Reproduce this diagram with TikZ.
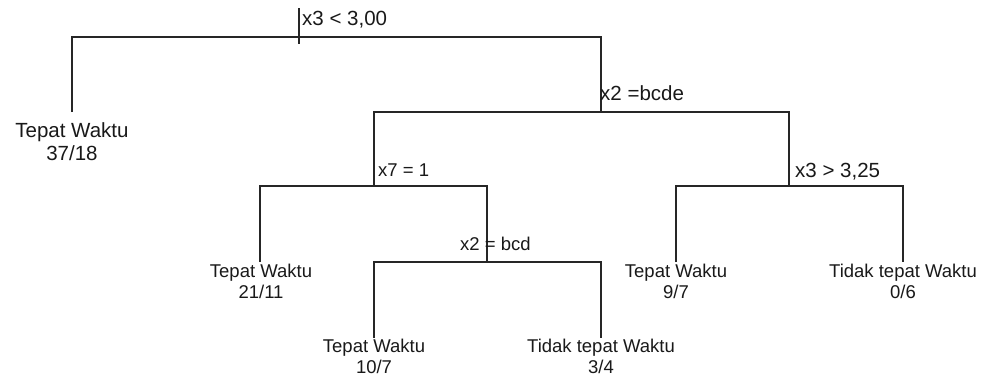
\documentclass[tikz,border=0pt]{standalone}
\usepackage{fontspec}
\setmainfont{Liberation Sans}
\begin{document}
\begin{tikzpicture}[x=1pt,y=-1pt,
  edge/.style={line width=1.2pt,black!85},
  small/.style={inner sep=0pt,font=\fontsize{18.5}{22}\selectfont,text=black!90},
  big/.style={inner sep=0pt,font=\fontsize{20.5}{24}\selectfont,text=black!90},
  leaf/.style={anchor=base},
  cond/.style={anchor=base west}]
\useasboundingbox (0,0) rectangle (982,381);
% split points and leaf tops
\coordinate (N1) at (299,37);
\coordinate (T1) at (299,8);
\coordinate (T2) at (299,44);
\coordinate (L1) at (72,112);
\coordinate (N2) at (601,112);
\coordinate (N3) at (374,186);
\coordinate (N4) at (789,186);
\coordinate (L2) at (260,262);
\coordinate (N5) at (487,262);
\coordinate (L3) at (374,338);
\coordinate (L4) at (601,338);
\coordinate (L5) at (676,262);
\coordinate (L6) at (903,262);
% branches
\draw[edge] (T1) -- (T2);
\draw[edge] (L1) |- (N1) -| (N2);
\draw[edge] (N3) |- (N2) -| (N4);
\draw[edge] (L2) |- (N3) -| (N5);
\draw[edge] (L3) |- (N5) -| (L4);
\draw[edge] (L5) |- (N4) -| (L6);
% split labels
\node[big,cond] (c1) at (302,25) {x3 < 3,00};
\node[big,cond] (c2) at (600,100) {x2 =bcde};
\node[small,cond] (c3) at (378,176) {x7 = 1};
\node[small,cond] (c4) at (460,250) {x2 = bcd};
\node[big,cond] (c5) at (795,177) {x3 > 3,25};
% leaves
\node[big,leaf] (a1) at (72,137) {Tepat Waktu};
\node[big,leaf] (a2) at (72,160) {37/18};
\node[small,leaf] (b1) at (261,277) {Tepat Waktu};
\node[small,leaf] (b2) at (261,298) {21/11};
\node[small,leaf] (d1) at (374,352) {Tepat Waktu};
\node[small,leaf] (d2) at (374,373) {10/7};
\node[small,leaf] (e1) at (601,352) {Tidak tepat Waktu};
\node[small,leaf] (e2) at (601,373) {3/4};
\node[small,leaf] (f1) at (676,277) {Tepat Waktu};
\node[small,leaf] (f2) at (676,298) {9/7};
\node[small,leaf] (g1) at (903,277) {Tidak tepat Waktu};
\node[small,leaf] (g2) at (903,298) {0/6};
\end{tikzpicture}
\end{document}
